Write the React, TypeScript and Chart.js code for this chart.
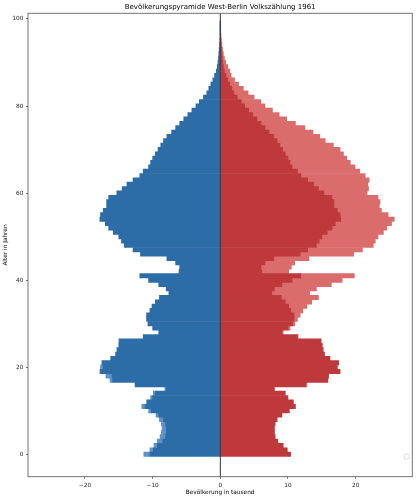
import React, { useEffect, useRef } from "react";
import { Chart, registerables } from "chart.js";
Chart.register(...registerables);

const titleText = "Bevölkerungspyramide West-Berlin Volkszählung 1961";
const xLabel = "Bevölkerung in tausend";
const yLabel = "Alter in Jahren";

const ages = [
  0, 1, 2, 3, 4, 5, 6, 7, 8, 9, 10, 11, 12, 13, 14, 15, 16, 17, 18, 19,
  20, 21, 22, 23, 24, 25, 26, 27, 28, 29, 30, 31, 32, 33, 34, 35, 36, 37, 38, 39,
  40, 41, 42, 43, 44, 45, 46, 47, 48, 49, 50, 51, 52, 53, 54, 55, 56, 57, 58, 59,
  60, 61, 62, 63, 64, 65, 66, 67, 68, 69, 70, 71, 72, 73, 74, 75, 76, 77, 78, 79,
  80, 81, 82, 83, 84, 85, 86, 87, 88, 89, 90, 91, 92, 93, 94, 95, 96, 97, 98, 99,
];

// Männer (tausend)
const male = [
  11.3, 10.4, 9.8, 9.3, 8.9, 8.7, 8.6, 8.7, 9.0, 9.5,
  10.6, 11.6, 10.9, 10.3, 9.9, 8.2, 12.6, 16.3, 16.9, 17.8,
  17.7, 17.5, 16.2, 15.5, 15.3, 15.0, 15.0, 11.4, 9.1, 10.0,
  10.7, 10.9, 10.9, 10.4, 10.1, 9.6, 9.0, 7.6, 8.0, 9.1,
  10.6, 11.9, 6.1, 6.0, 6.6, 7.9, 11.8, 12.9, 14.2, 14.6,
  15.0, 15.8, 16.5, 17.0, 17.8, 17.7, 17.3, 16.8, 16.8, 16.5,
  15.3, 14.5, 13.8, 12.9, 11.9, 11.4, 10.6, 10.3, 10.0, 9.6,
  9.2, 8.8, 8.4, 7.9, 7.2, 6.6, 6.0, 5.4, 4.8, 4.2,
  3.6, 3.1, 2.5, 2.0, 1.7, 1.4, 1.1, 0.85, 0.6, 0.45,
  0.35, 0.28, 0.22, 0.17, 0.12, 0.08, 0.05, 0.03, 0.02, 0.01,
];

// Frauen (tausend)
const female = [
  10.4, 9.9, 9.3, 8.5, 8.1, 8.0, 8.0, 8.1, 8.4, 9.1,
  10.2, 11.1, 10.8, 10.0, 9.6, 8.0, 12.8, 15.9, 16.0, 17.7,
  17.3, 17.5, 16.2, 15.4, 15.2, 15.1, 14.9, 11.5, 9.3, 10.3,
  11.0, 11.4, 11.8, 12.2, 12.8, 13.5, 14.5, 13.2, 14.2, 16.4,
  18.0, 19.8, 10.1, 10.5, 11.0, 13.1, 19.7, 21.0, 22.6, 22.9,
  23.3, 24.1, 24.6, 25.3, 25.7, 24.8, 23.8, 23.5, 23.6, 23.3,
  21.7, 21.9, 21.8, 22.0, 21.4, 20.6, 19.9, 19.2, 18.7, 18.2,
  17.7, 16.7, 15.5, 14.7, 13.7, 12.5, 11.1, 9.8, 8.7, 7.7,
  6.6, 6.0, 5.0, 4.1, 3.4, 2.7, 2.1, 1.6, 1.4, 1.1,
  0.8, 0.6, 0.45, 0.33, 0.24, 0.16, 0.1, 0.06, 0.04, 0.02,
];

const xTicks = [-20, -10, 0, 10, 20];
const yTicks = [0, 20, 40, 60, 80, 100];

const FONT = "'DejaVu Sans', sans-serif";

const decor = {
  id: "decor",
  afterDatasetsDraw(chart: any) {
    const { ctx, chartArea: a, scales } = chart;
    const x0 = scales.x.getPixelForValue(0);
    ctx.save();
    ctx.strokeStyle = "#333";
    ctx.lineWidth = 1;
    ctx.beginPath();
    ctx.moveTo(x0, a.top);
    ctx.lineTo(x0, a.bottom);
    ctx.stroke();
    ctx.strokeStyle = "#666";
    ctx.lineWidth = 0.9;
    ctx.strokeRect(a.left, a.top, a.right - a.left, a.bottom - a.top);
    // empty legend frame
    ctx.strokeStyle = "#d0d0d0";
    ctx.lineWidth = 0.8;
    ctx.fillStyle = "rgba(255,255,255,0.8)";
    ctx.beginPath();
    (ctx as any).roundRect(a.right - 8, a.bottom - 22.5, 5, 4.7, 1);
    ctx.fill();
    ctx.stroke();
    ctx.restore();
  },
};

export default function App() {
  const ref = useRef<HTMLCanvasElement | null>(null);
  useEffect(() => {
    if (!ref.current) return;
    const common = ages.map((_, i) => Math.min(male[i], female[i]));
    const mk = (vals: (number | null)[]) =>
      ages.map((a, i) => ({ x: vals[i], y: a }));
    const chart = new Chart(ref.current, {
      type: "bar",
      data: {
        datasets: [
          {
            label: "m",
            data: mk(common.map((c) => -c)),
            backgroundColor: "#2c6ca7",
          },
          {
            label: "m+",
            data: mk(male.map((m, i) => (m > common[i] ? -(m - common[i]) : null))),
            backgroundColor: "#5d93c6",
          },
          {
            label: "f",
            data: mk(common),
            backgroundColor: "#be393b",
          },
          {
            label: "f+",
            data: mk(female.map((f, i) => (f > common[i] ? f - common[i] : null))),
            backgroundColor: "#da6d6c",
          },
        ] as any,
      },
      options: {
        indexAxis: "y",
        animation: false,
        responsive: false,
        devicePixelRatio: 1,
        layout: { padding: { top: 0, right: 3.7, bottom: 0, left: 0 } },
        datasets: {
          bar: { barPercentage: 1, categoryPercentage: 1, borderWidth: 0 },
        },
        plugins: {
          legend: { display: false },
          tooltip: { enabled: false },
          title: {
            display: true,
            text: titleText,
            color: "#000",
            fullSize: false,
            font: { family: FONT, size: 7, weight: "normal" },
            padding: { top: 2.8, bottom: 2.1 },
          },
        },
        scales: {
          x: {
            type: "linear",
            stacked: true,
            offset: false,
            min: -28.42,
            max: 28.37,
            afterFit: (s: any) => {
              s.height = 23.3;
            },
            afterBuildTicks: (s: any) => {
              s.ticks = xTicks.map((v) => ({ value: v }));
            },
            border: { display: false },
            grid: {
              offset: false,
              drawOnChartArea: false,
              drawTicks: true,
              tickLength: 2,
              color: "#444",
              lineWidth: 0.8,
            },
            ticks: {
              color: "#222",
              padding: 3,
              maxRotation: 0,
              font: { family: FONT, size: 5.8 },
              callback: (v: any) => (v < 0 ? "\u2212" + Math.abs(v) : String(v)),
            },
            title: {
              display: true,
              text: xLabel,
              color: "#000",
              font: { family: FONT, size: 5.8 },
              padding: { top: 0, bottom: 4 },
            },
          },
          y: {
            type: "linear",
            stacked: true,
            offset: false,
            min: -5.15,
            max: 101.3,
            afterFit: (s: any) => {
              s.width = 28;
            },
            afterBuildTicks: (s: any) => {
              s.ticks = yTicks.map((v) => ({ value: v }));
            },
            border: { display: false },
            grid: {
              offset: false,
              drawOnChartArea: false,
              drawTicks: true,
              tickLength: 2,
              color: "#444",
              lineWidth: 0.8,
            },
            ticks: {
              color: "#222",
              padding: 2.5,
              font: { family: FONT, size: 5.8 },
            },
            title: {
              display: true,
              text: yLabel,
              color: "#000",
              font: { family: FONT, size: 5.8 },
              padding: { top: 2.5, bottom: 0 },
            },
          },
        },
      } as any,
      plugins: [decor],
    });
    return () => chart.destroy();
  }, []);
  return (
    <div style={{ position: "fixed", left: 0, top: 0, width: 416, height: 500, background: "#fff" }}>
      <canvas ref={ref} width={416} height={500} style={{ width: 416, height: 500, display: "block" }} />
    </div>
  );
}
